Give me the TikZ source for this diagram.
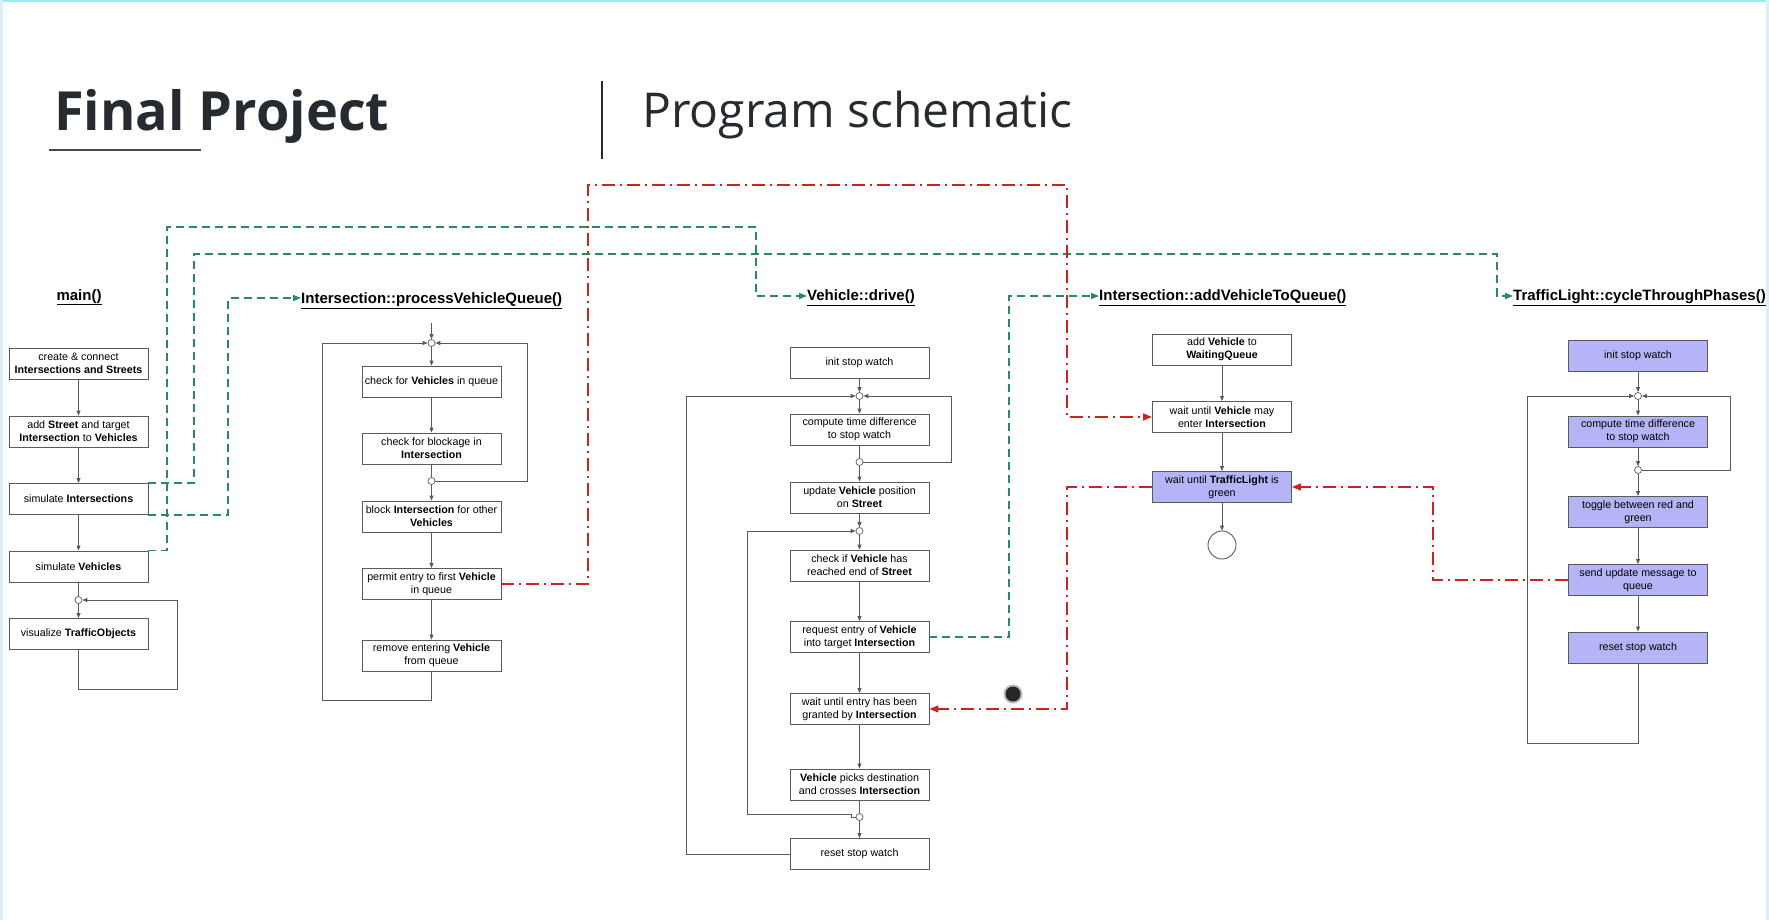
\documentclass[tikz,border=0pt]{standalone}
\usepackage{fontspec}
\setmainfont{Liberation Sans}
\newfontfamily\titlefont{Open Sans}
\usetikzlibrary{arrows.meta,calc}

\definecolor{boxline}{HTML}{5A5A5A}
\definecolor{lilac}{HTML}{B4B4F6}
\definecolor{callgreen}{HTML}{2B8A5C}
\definecolor{syncred}{HTML}{CC2222}
\definecolor{ink}{HTML}{262B30}
\definecolor{frametop}{HTML}{8AF4F8}
\definecolor{frameside}{HTML}{DCEEF6}

\tikzset{
  stepbox/.style={draw=boxline, line width=0.9pt, fill=white,
    minimum width=139pt, minimum height=31pt, inner sep=1pt, align=center,
    font=\fontsize{10.7}{13}\selectfont},
  lightbox/.style={stepbox, fill=lilac},
  merge/.style={circle, draw=boxline, fill=white, line width=0.7pt,
    minimum size=7pt, inner sep=0pt},
  flow/.style={draw=boxline, line width=0.9pt},
  flowarrow/.style={flow, -{Triangle[length=5pt,width=4pt]}},
  calls/.style={draw=callgreen, line width=1.6pt, dash pattern=on 8pt off 5pt,
    -{Triangle[length=8pt,width=6pt]}},
  waits/.style={draw=syncred, line width=1.6pt,
    dash pattern=on 13pt off 5pt on 2pt off 5pt,
    -{Triangle[length=9pt,width=7pt]}},
  fnlabel/.style={font=\fontsize{15}{18}\selectfont\bfseries, inner sep=0pt, anchor=base west},
}

\begin{document}
\begin{tikzpicture}[x=1pt, y=-1pt]
\useasboundingbox (0,0) rectangle (1769,920);
\fill[white] (0,0) rectangle (1769,920);
% slide frame
\fill[frametop] (0,0) rectangle (1769,2);
\fill[frameside] (0,0) rectangle (3,920);
\fill[frameside] (1766,0) rectangle (1769,920);

% heading
\node[anchor=base west, inner sep=0pt, text=ink,
      font=\titlefont\bfseries\fontsize{54}{54}\selectfont] (title) at (54,131) {Final Project};
\draw[line width=2pt, ink!85] (49,150) -- (201,150);
\draw[line width=1.3pt, ink] (602,81) -- (602,159);
\node[anchor=base west, inner sep=0pt, text=ink,
      font=\titlefont\fontsize{48}{48}\selectfont] (subtitle) at (642,128) {Program schematic};

% function labels
\node[fnlabel, anchor=base] (Lmain) at (79,300) {\underline{main()}};
\node[fnlabel] (Lqueue) at (301,303.5) {\underline{Intersection::processVehicleQueue()}};
\node[fnlabel] (Ldrive) at (807,300.5) {\underline{Vehicle::drive()}};
\node[fnlabel] (Ladd) at (1099,300.5) {\underline{Intersection::addVehicleToQueue()}};
\node[fnlabel] (Lcycle) at (1513,300.5) {\underline{TrafficLight::cycleThroughPhases()}};

% ---------------- main()
\node[stepbox] (m1) at (78.5,363.5) {create \& connect\\\textbf{Intersections and Streets}};
\node[stepbox] (m2) at (78.5,431.5) {add \textbf{Street} and target\\\textbf{Intersection} to \textbf{Vehicles}};
\node[stepbox] (m3) at (78.5,499) {simulate \textbf{Intersections}};
\node[stepbox] (m4) at (78.5,566.5) {simulate \textbf{Vehicles}};
\node[merge] (mc) at (78.5,600) {};
\node[stepbox] (m5) at (78.5,634) {visualize \textbf{TrafficObjects}};
\draw[flowarrow] (m1) -- (m2);
\draw[flowarrow] (m2) -- (m3);
\draw[flowarrow] (m3) -- (m4);
\draw[flow] (m4) -- (mc);
\draw[flowarrow] (mc) -- (m5);
\draw[flowarrow] (m5.south) -- (78.5,689) -| (177,600) -- (mc.east);

% ---------------- Intersection::processVehicleQueue()
\coordinate (pin) at (431.5,323);
\node[merge] (pc1) at (431.5,343) {};
\node[stepbox] (p1) at (431.5,381.5) {check for \textbf{Vehicles} in queue};
\node[stepbox] (p2) at (431.5,448.5) {check for blockage in\\\textbf{Intersection}};
\node[merge] (pc2) at (431.5,481) {};
\node[stepbox] (p3) at (431.5,516.5) {block \textbf{Intersection} for other\\\textbf{Vehicles}};
\node[stepbox] (p4) at (431.5,584) {permit entry to first \textbf{Vehicle}\\in queue};
\node[stepbox] (p5) at (431.5,655.5) {remove entering \textbf{Vehicle}\\from queue};
\draw[flowarrow] (pin) -- (pc1);
\draw[flowarrow] (pc1) -- (p1);
\draw[flowarrow] (p1) -- (p2);
\draw[flow] (p2) -- (pc2);
\draw[flowarrow] (pc2) -- (p3);
\draw[flowarrow] (p3) -- (p4);
\draw[flowarrow] (p4) -- (p5);
\draw[flowarrow] (pc2.east) -- (527,481) |- (pc1.east);
\draw[flowarrow] (p5.south) -- (431.5,700) -| (322,343) -- (pc1.west);

% ---------------- Vehicle::drive()
\node[stepbox] (v1) at (859.5,362.5) {init stop watch};
\node[merge] (vc1) at (859.5,396) {};
\node[stepbox] (v2) at (859.5,429.5) {compute time difference\\to stop watch};
\node[merge] (vc2) at (859.5,462) {};
\node[stepbox] (v3) at (859.5,497.5) {update \textbf{Vehicle} position\\on \textbf{Street}};
\node[merge] (vc3) at (859.5,531) {};
\node[stepbox] (v4) at (859.5,565.5) {check if \textbf{Vehicle} has\\reached end of \textbf{Street}};
\node[stepbox] (v5) at (859.5,637) {request entry of \textbf{Vehicle}\\into target \textbf{Intersection}};
\node[stepbox] (v6) at (859.5,709) {wait until entry has been\\granted by \textbf{Intersection}};
\node[stepbox] (v7) at (859.5,784.5) {\textbf{Vehicle} picks destination\\and crosses \textbf{Intersection}};
\node[merge] (vc4) at (859.5,817) {};
\node[stepbox] (v8) at (859.5,854) {reset stop watch};
\draw[flowarrow] (v1) -- (vc1);
\draw[flowarrow] (vc1) -- (v2);
\draw[flow] (v2) -- (vc2);
\draw[flowarrow] (vc2) -- (v3);
\draw[flowarrow] (v3) -- (vc3);
\draw[flowarrow] (vc3) -- (v4);
\draw[flowarrow] (v4) -- (v5);
\draw[flowarrow] (v5) -- (v6);
\draw[flowarrow] (v6) -- (v7);
\draw[flow] (v7) -- (vc4);
\draw[flowarrow] (vc4) -- (v8);
\draw[flowarrow] (vc2.east) -- (951,462) |- (vc1.east);
\draw[flowarrow] (v8.west) -| (686,396) -- (vc1.west);
\draw[flowarrow] (vc4.west) -- ++(-4,0) -- ++(0,-3) -| (747,531) -- (vc3.west);

% ---------------- Intersection::addVehicleToQueue()
\node[stepbox] (a1) at (1222,349.5) {add \textbf{Vehicle} to\\\textbf{WaitingQueue}};
\node[stepbox] (a2) at (1222,417) {wait until \textbf{Vehicle} may\\enter \textbf{Intersection}};
\node[lightbox] (a3) at (1222,487) {wait until \textbf{TrafficLight} is\\green};
\node[circle, draw=boxline, line width=0.9pt, fill=white, minimum size=28pt, inner sep=0pt] (aend) at (1222,545) {};
\draw[flowarrow] (a1) -- (a2);
\draw[flowarrow] (a2) -- (a3);
\draw[flowarrow] (a3) -- (aend);

% ---------------- TrafficLight::cycleThroughPhases()
\node[lightbox] (t1) at (1638,355.5) {init stop watch};
\node[merge] (tc1) at (1638,396) {};
\node[lightbox] (t2) at (1638,431.5) {compute time difference\\to stop watch};
\node[merge] (tc2) at (1638,470) {};
\node[lightbox] (t3) at (1638,512) {toggle between red and\\green};
\node[lightbox] (t4) at (1638,580) {send update message to\\queue};
\node[lightbox] (t5) at (1638,647.5) {reset stop watch};
\draw[flowarrow] (t1) -- (tc1);
\draw[flowarrow] (tc1) -- (t2);
\draw[flowarrow] (t2) -- (tc2);
\draw[flowarrow] (tc2) -- (t3);
\draw[flowarrow] (t3) -- (t4);
\draw[flowarrow] (t4) -- (t5);
\draw[flowarrow] (tc2.east) -- (1730,470) |- (tc1.east);
\draw[flowarrow] (t5.south) -- (1638,743) -| (1527,396) -- (tc1.west);

% ---------------- thread start calls
\draw[calls] (m4.north east) -| (167,227) -| (756,296) -- (Ldrive.west |- 0,296);
\draw[calls] (m3.north east) -| (194,254) -| (1497,296) -- (Lcycle.west |- 0,296);
\draw[calls] (m3.south east) -| (228,298) -- (Lqueue.west |- 0,298);
\draw[calls] (v5.east) -| (1009,296) -- (Ladd.west |- 0,296);

% ---------------- synchronisation
\draw[waits] (p4.east) -| (588,185) -| (1067,417) -- (a2.west);
\draw[waits] (a3.west) -| (1067,709) -- (v6.east);
\draw[waits] (t4.west) -| (1433,487) -- (a3.east);

% pointer
\fill[gray!55] (1013,694) circle (9.5);
\fill[black!85] (1013,694) circle (7.5);
\end{tikzpicture}
\end{document}
